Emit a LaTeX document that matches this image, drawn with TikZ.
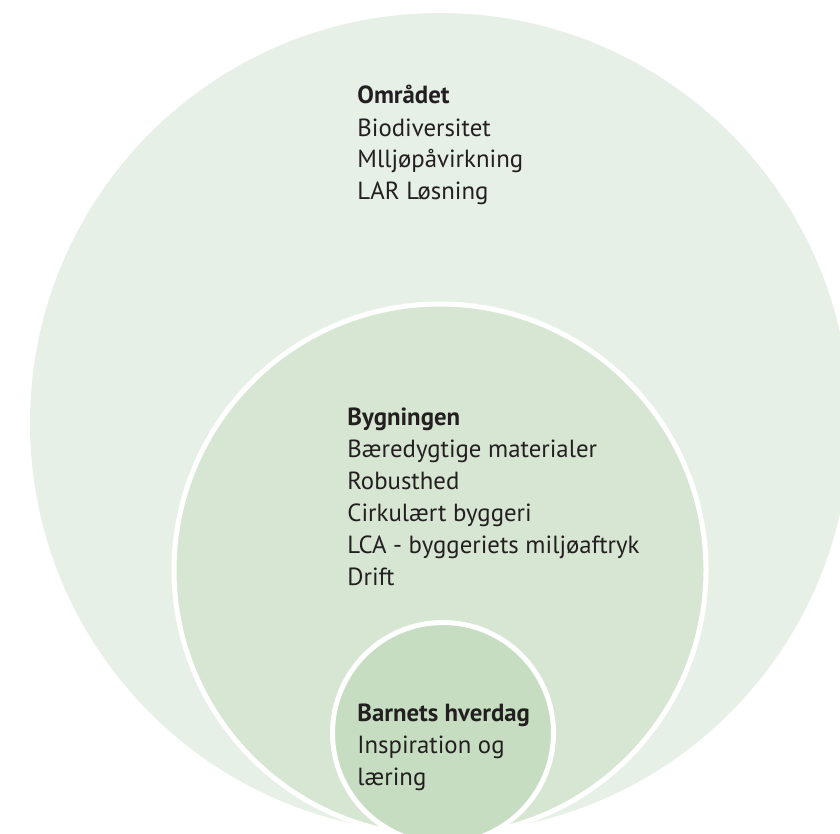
\documentclass[tikz,border=0pt]{standalone}
\usepackage{fontspec}
\setmainfont{PT Sans}
\usetikzlibrary{positioning}

\definecolor{outerring}{HTML}{E6F0E6}
\definecolor{middlering}{HTML}{D7E6D3}
\definecolor{innerring}{HTML}{C6DDC2}
\definecolor{ink}{HTML}{231F20}

\begin{document}
\begin{tikzpicture}[x=0.5pt,y=-0.5pt,
  ring/.style={circle, inner sep=0pt, outer sep=0pt},
  cut/.style={draw=white, line width=2.5pt},
  ringtext/.style={anchor=base west, align=left, inner sep=0pt, text=ink,
    font=\fontsize{12.4}{16}\selectfont}]
\useasboundingbox (0,0) rectangle (840,834);
\clip (0,0) rectangle (840,834);
% the three rings, all standing on the bottom edge
\node [ring, fill=outerring, minimum size=410pt] (omraadet) at (440,423) {};
\node [ring, cut, fill=middlering, minimum size=266pt] (bygningen) at (440,570) {};
\node [ring, cut, fill=innerring, minimum size=110.5pt] (barnet) at (443,733) {};
% texts (placed by the baseline of their last line)
\node [ringtext] (omraadettext) at (357,200)
  {\textbf{Området}\\Biodiversitet\\Mlljøpåvirkning\\LAR Løsning};
\node [ringtext] (bygningentext) at (347,585)
  {\textbf{Bygningen}\\Bæredygtige materialer\\Robusthed\\Cirkulært byggeri\\LCA - byggeriets miljøaftryk\\Drift};
\node [ringtext] (barnettext) at (357,785)
  {\textbf{Barnets hverdag}\\Inspiration og\\læring};
\end{tikzpicture}
\end{document}
